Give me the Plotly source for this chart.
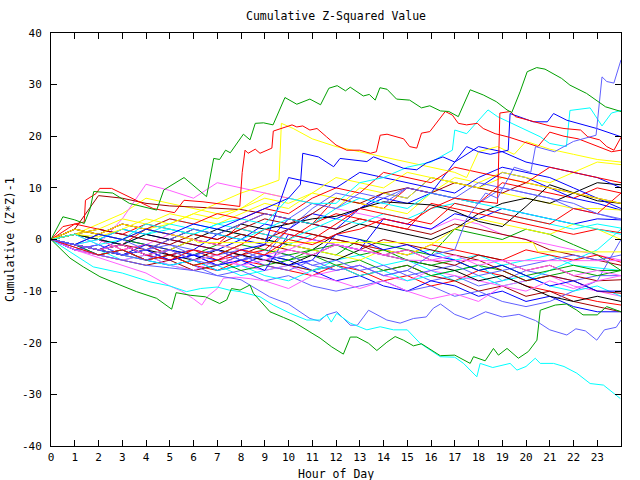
import plotly.graph_objects as go

HOURS = list(range(25))
X_TICKS = list(range(24))
Y_TICKS = [-40, -30, -20, -10, 0, 10, 20, 30, 40]

RED = "#ff0000"; GREEN = "#00a000"; BLUE = "#0000ff"; MAGENTA = "#ff60ff"
CYAN = "#00ffff"; DRED = "#a00000"; YELLOW = "#ffff00"; BLACK = "#000000"; SLATE = "#6060ff"

# ---- traced series (hour, value) ----
green_top = [(0,0),(0.5,4.4),(1.0,3.8),(1.4,3.1),(1.65,6.0),(1.8,9.3),(2.6,9.0),(3.3,7.0),(4.45,5.7),(4.75,9.6),
             (5.6,12.0),(6.55,8.3),(6.85,15.7),(7.1,15.5),(7.35,17.3),(7.55,16.8),(8.1,20.4),(8.38,19.3),(8.6,22.5),
             (8.95,22.6),(9.35,22.2),(9.85,27.5),(10.35,26.2),(10.9,27.2),(11.35,26.1),(11.7,29.3),(12.05,29.8),
             (12.4,28.8),(12.6,29.5),(13.15,27.8),(13.4,28.1),(13.65,27.0),(13.85,29.4),(14.15,29.1),(14.55,27.2),
             (15.1,27.0),(15.6,25.5),(15.95,25.9),(16.4,24.9),(16.75,24.8),(17.15,23.8),(17.65,29.0),(18.2,28.0),
             (18.75,26.7),(19.2,25.1),(19.4,24.6),(19.75,28.6),(20.05,32.5),(20.45,33.3),(20.8,33.0),(21.5,31.2),
             (21.85,29.9),(22.55,28.3),(23.35,25.7),(24.0,24.8)]
red_high = [(0,0),(0.5,2.5),(1.4,3.4),(1.45,7.6),(1.9,8.9),(2.05,9.9),(2.55,9.9),(3.4,8.0),(4.3,6.0),(5.2,5.2),
            (5.6,7.6),(6.4,7.3),(7.3,6.7),(7.95,6.4),(8.05,13.0),(8.17,17.3),(8.3,16.7),(8.6,17.5),(8.8,16.7),
            (9.3,17.7),(9.36,21.0),(10.15,22.2),(10.35,21.8),(10.6,22.0),(10.9,21.2),(11.2,21.5),(11.6,19.9),
            (12.0,18.3),(12.45,17.3),(13.0,17.3),(13.45,16.7),(13.7,17.0),(13.86,20.2),(14.15,20.4),(14.85,19.5),
            (15.1,18.0),(15.4,17.7),(15.6,20.6),(15.95,20.9),(16.25,22.8),(16.6,24.8),(16.9,24.1),(17.15,22.5),
            (17.5,22.2),(17.95,22.5),(18.2,21.5),(18.7,20.5),(19.3,19.8),(19.9,18.9),(20.5,18.0),(21.0,20.8),
            (21.6,20.0),(22.2,19.5),(22.7,18.6),(23.2,17.8),(23.6,17.0),(24.0,17.3)]
red_late = [(0,0),(1,-1.5),(2,-3),(3,-2),(4,-4),(5,-3),(6,-5),(7,-4),(8,-2),(9,-3),(10,0),(11,-1),(12,1),(13,2),
            (14,4),(15,3),(16,6),(17,8),(18,7.5),(18.8,7.0),(18.9,24.5),(19.35,24.8),(19.55,23.8),(20.3,22.8),
            (21.0,22.0),(21.6,21.5),(22.3,21.2),(22.6,19.9),(23.1,19.3),(23.4,18.0),(23.7,17.3),(24.0,19.8)]
cyan_high = [(0,0),(1,1),(2,-1),(3,0),(4,3),(5,2),(6,1),(7,3),(8,4),(9,3),(10,8),(11,7),(12,7),(13,11),(14,12),
             (15,14),(16,15),(16.9,17.3),(17.0,21.2),(17.5,20.5),(18.4,25.1),(18.8,23.8),(19.3,22.7),(19.9,21.5),
             (20.6,19.9),(21.0,18.6),(21.7,18.0),(21.85,25.0),(22.7,25.5),(23.2,22.0),(23.6,24.5),(24.0,25.0)]
slate_end = [(0,0),(1,-1),(2,-2),(3,-3),(4,-4),(5,-2),(6,-4),(7,-5),(8,-3),(9,-5),(10,-6),(11,-4),(12,-6),(13,-5),
             (14,-7),(15,-6),(16,-3),(17,-2),(17.5,4),(18.3,9),(18.8,8),(19.5,14),(20.2,13),(20.4,18),(21.2,17),
             (22.0,19),(22.95,20.2),(23.2,31.5),(23.4,30.6),(23.7,30.3),(24.0,34.8)]
blue_upper = [(0,0),(1,-1),(2,1),(3,0),(4,2),(5,1),(6,3),(7,2),(8,4),(9,6),(10,8),(10.5,10.6),(10.6,16.7),
              (11.26,16.0),(11.9,14.1),(12.17,15.7),(13.3,15.1),(13.58,16.0),(14.84,13.8),(15.4,13.5),(15.8,14.8),
              (16.5,16.0),(17.0,15.0),(17.5,18.0),(18.0,17.0),(18.5,16.5),(19.25,17.3),(19.33,24.4),(20.3,22.8),
              (20.9,22.8),(21.16,24.4),(21.72,23.1),(22.98,21.5),(24.0,19.9)]
yellow_high = [(0,0),(1,1),(2,0.5),(3,2),(4,4),(5,3),(6,5),(7,7),(8,9),(9,10.5),(9.6,11.5),(9.7,22.5),(10.2,21.5),
               (11,19.5),(12,18),(13,17),(14,16),(15,15),(16,14),(17,13),(17.5,12),(18,17),(18.8,18),(19.5,16.5),
               (20,19),(21,17.5),(22,16.5),(23,15.5),(24,15)]
green_low = [(0,0),(0.8,-3.6),(1.36,-5.3),(2.06,-7.2),(2.9,-8.8),(3.6,-10.1),(4.45,-11.4),(5.08,-13.5),(5.27,-10.3),
             (5.86,-10.8),(6.5,-11.1),(7.1,-12.4),(7.4,-11.7),(7.6,-9.5),(7.96,-9.8),(8.38,-8.8),(8.52,-10.4),
             (9.22,-14.0),(9.79,-15.1),(10.2,-15.9),(10.9,-17.9),(11.33,-19.1),(11.82,-20.8),(12.31,-22.2),
             (12.6,-18.9),(12.88,-18.9),(13.37,-20.1),(13.72,-21.5),(14.14,-19.9),(14.49,-18.8),(14.84,-19.5),
             (15.26,-20.6),(15.6,-20.2),(16.39,-22.5),(17.0,-22.4),(17.65,-24.0),(17.79,-22.7),(18.28,-23.5),
             (18.63,-21.1),(18.84,-22.4),(19.2,-21.1),(19.68,-23.0),(20.1,-21.7),(20.46,-19.5),(20.6,-13.7),
             (21.23,-12.7),(21.7,-12.5),(22.14,-13.7),(22.4,-14.6),(23.0,-14.6),(23.4,-13.0),(24.0,-14.0)]
cyan_low = [(0,0),(1.78,-5.3),(3.0,-6.5),(4.17,-8.2),(5.0,-9.0),(5.71,-10.1),(6.3,-9.5),(7.0,-9.2),(7.5,-9.8),
            (7.96,-10.1),(8.8,-11.1),(9.36,-12.7),(10.07,-14.3),(10.77,-15.6),(11.3,-15.6),(11.61,-14.6),
            (11.8,-16.0),(12.03,-14.3),(12.6,-16.2),(13.02,-16.9),(13.3,-17.5),(13.86,-16.9),(14.42,-17.5),
            (15.0,-17.5),(15.54,-20.1),(15.96,-21.4),(16.39,-22.7),(17.0,-22.8),(17.37,-24.0),(17.93,-26.6),
            (18.07,-24.0),(18.6,-24.8),(19.33,-24.0),(19.62,-25.3),(20.0,-24.6),(20.39,-23.0),(20.6,-24.0),
            (21.16,-24.0),(21.6,-24.6),(22.14,-25.9),(22.7,-27.9),(23.26,-28.2),(23.97,-30.8)]
slate_low = [(0,0),(1,-1.5),(2,-3),(3,-4),(4,-5),(5,-5.5),(6,-6),(7,-7),(8,-7.8),(9.2,-11.1),(10.0,-12.5),
             (10.9,-15.3),(11.3,-15.8),(11.6,-14.6),(12.03,-14.0),(12.6,-16.6),(12.9,-16.6),(13.37,-13.7),
             (13.72,-14.6),(14.14,-15.6),(14.7,-16.2),(15.26,-15.3),(15.8,-15.0),(16.1,-13.3),(16.4,-12.5),
             (17.0,-14.5),(17.6,-15.5),(18.3,-14.0),(19.0,-15.0),(19.7,-14.5),(20.4,-15.7),(21.0,-17.5),
             (21.72,-18.5),(22.1,-17.3),(22.5,-17.7),(22.98,-19.5),(23.3,-17.5),(23.8,-17.0),(24.0,-15.6)]
magenta_low = [(0,0),(1,-2),(2,-3.5),(3,-5),(4,-6.5),(5,-9),(5.5,-10),(6.0,-11.5),(6.35,-12.7),(6.6,-11),
               (7.0,-9.5),(7.26,-7.5),(7.8,-7.3),(8.4,-7.6),(9,-8),(10,-9.5),(11,-7),(12,-8),(13,-9.5),(14,-8),
               (15,-10),(16,-11.5),(17,-10.5),(18,-12),(19,-9),(20,-10),(21,-8),(22,-9.5),(23,-8),(24,-7)]
yellow_flat = [(0,0),(1,2),(2,1),(3,3),(4,2),(5,1),(6,0),(6.2,-0.6),(20.3,-0.6),(20.5,-2.4),(24,-2.4)]
magenta_flat = [(0,0),(1,-1),(2,-2),(3,-1),(4,-3),(5,-2),(6,-4),(7,-3),(8,-5),(9,-4),(10,-2),(11,-3),(12,-1),
                (13,-2),(14,-3),(15,-4),(16,-4.1),(24,-4.1)]

# ---- hourly series (values at hours 0..24) ----
L1 = [0, 1, 0, -1, 2, 1, 0, -1, 3, 5, 4, 3, 8, 7, 6, 10, 9, 8, 7, 11, 10, 9, 8, 10, 9]
L2 = [0, -1, -2, 0, -1, -3, -2, 1, 0, -1, 4, 3, 2, 6, 9, 8, 12, 11, 10, 13, 12, 10, 8, 7, 5.7]
L3 = [0, -1, -2, -3, -2, -4, -3, -5, -4, -2, -3, -5, -6, -5, -7, -6, -8, -7, -9, -8, -6, -7, -8, -7, -7]
L4 = [0, 2, 1, 3, 2, 4, 3, 2, 1, 0, -1, 1, 0, -1, -2, -3, -2, -4, -3, -5, -4, -3, -5, -5.5, -6]
L5 = [0, 1, 3, 5, 8, 7, 6, 5, 6, 9, 8, 7, 6, 10, 9, 8, 12, 11, 10, 9, 8, 7, 6, 6, 5.7]
L6 = [0, 1, -1, 4, 10.7, 9.5, 8, 11, 10, 9, 8, 7, 6, 5, 4, 3, 2, 4, 3, 1, 0, -1, -2, -3, -4]
L7 = [0, 2, 8.5, 8, 7, 6.5, 6.3, 6.0, 5.8, 5, 4, 3, 2, 4, 3, 2, 1, 3, 2, 1, 0, -2, -3, -4, -5]
L8 = [0, -1, -2, -1, -3, -2, 0, 2, 1, 0, -1, -2, 1, 3, 2, 1, 0, 2, 5, 7, 8, 7, 9, 11, 10.6]
L9 = [0, 2, 1, 0, -1, -2, -3, -1, -2, -3, -4, -2, -3, 0, -1, -2, -3, 2, 1, 0, 2, 1, -1, -3, -6]
L10 = [0, -1, -2, -3, -4, -3, -5, -6, -4, -5, -6, -7, -5, -6, -8, -7, -9, -8, -6, -7, -9, -10, -11, -12, -12.7]
L11 = [0, -1, -3, -2, -4, -5, -4, -6, -5, -3, -4, -6, -8, -7, -9, -10, -8, -9, -11, -10, -12, -11, -13, -14, -14]
L12 = [0, -1, -2, -4, -3, -5, -6, -5, -7, -6, -5, -6, -4, -3, -5, -4, -6, -8, -7, -9, -8, -6, -4, -2, 2]
L13 = [0, -1, 1, 0, 2, 3, 5, 4, 6, 8, 7, 9, 8, 7, 6, 5, 9, 12, 11, 13, 12, 11, 13, 15, 14.5]
L14 = [0, -2, -3, -4, -5, -4, -6, -5, -3, -4, -5, -6, -5, -7, -6, -5, -7, -8, -10, -9, -11, -10, -12, -13, -14]
L15 = [0, -2, -3, -2, -4, -3, -5, -7, -6, -8, -7, -9, -10, -9, -8, -10, -9, -11, -10, -12, -13, -12, -10, -8, 0]
L16 = [0, 1, 0, 2, 1, 0, -1, -2, 0, 3, 2, 5, 4, 6, 8, 7, 9, 15, 18, 17, 15, 14, 13, 12, 10]
L17 = [0, 1, 0, -2, -1, -3, -2, -4, -3, -2, 2, 1, 0, -1, -2, -3, -1, -2, -3, -4, -2, -3, -4, -3, -4.4]
L18 = [0, -2, -3, -4, -3, -5, -6, -4, -5, -6, -5, -7, -6, -5, -7, -8, -6, -7, -8, -9, -8, -7, -9, -10, -11]
L19 = [0, -1, -2, -3, -4, -5, -4, -6, -5, -7, -8, -6, -5, -7, -6, -8, -7, -6, -5, -8, -7, -9, -10, -9, -11]
L20 = [0, -1, -3, -2, -4, -3, -5, -4, -6, -5, -4, -3, -5, -4, -6, -5, -7, -6, -5, -6, -8, -7, -6, -7, -6]
L21 = [0, 1, 0, -1, -2, 0, -1, -2, -3, -1, -2, -3, -1, -2, 0, -1, -2, -3, -4, -6, -8, -7, -8, -10, -10.4]
L22 = [0, -1, -2, -1, -3, -4, -3, -5, -4, -6, 1, 0, -1, -2, 4, 3, 2, 5, 4, 6, 5, 4, 3, 4, 3.8]
L23 = [0, -1, -2, -3, -1, -2, 0, -1, -2, -3, -1, -2, -3, -4, -2, -3, -1, 2, 4, 3, 2, 1, 3, 2, 0]
L24 = [0, -1, -2, -3, -2, -3, -4, -2, -3, -4, -5, -3, -4, -2, -3, -4, -5, -6, -8, -7, -9, -11, -12, -11, -12]
L25 = [0, 1, 2, 1, 0, -1, -2, -3, -2, -4, -3, -5, -4, -6, -5, -7, -6, -5, -7, -6, -5, -4, -3, -4, -3]
L26 = [0, 3, 2, 1, 3, 2, 1, 0, 2, 1, 0, 3, 5, 4, 3, 2, 7, 6, 5, 4, 3, 2, 1, 2, 1.3]
L27 = [0, 2, 1, 3, 2, 1, 0, -1, 1, 0, 2, 1, 0, -1, -3, -2, -4, -5, -3, -4, -6, -5, -7, -8, -7.8]
L28 = [0, 1, 0, -1, 1, 2, 1, 3, 2, 1, 0, 2, 4, 3, 5, 4, 6, 7, 6, 5, 4, 3, 2, 3, 2.2]
L29 = [0, -1, -2, -1, -3, -2, -4, -3, -1, -2, -3, -2, -1, -3, -2, -4, -5, -4, -6, -5, -7, -6, -5, -6, -6]
L30 = [0, -2, -1, -3, -2, -4, -3, -2, -4, -3, -5, -4, 1, 0, -2, -1, -3, -4, -6, -5, -7, -9, -8, -10, -10]
L31 = [0, -1, 0, -2, -1, 1, 0, -1, -2, -3, -2, 0, -1, -2, -3, -2, -4, -3, -5, -4, -6, -5, -7, -6, -7]
L32 = [0, 1, 0, -1, 1, 0, 2, 1, 3, 2, 3, 4, 4.5, 6, 7.3, 7, 6.7, 5.5, 3.5, 2.5, 6.4, 10.6, 9, 7.5, 7]
L33 = [0, -1, -2, -3, -1, -2, -3, -4, -2, -1, 12, 11, 10, 13, 12, 11, 10, 9, 12, 14, 13, 12, 10, 8, 6]
L34 = [0, -1, 1, 0, -2, -1, -3, -2, -4, -3, 2, 6, 9, 8, 7, 10, 9, 8, 7, 10, 9, 8, 6, 5, 3.8]
L35 = [0, -1, -2, -1, -3, -4, -2, -3, -1, 2, 1, 0, 3, 6, 5, 4, 3, 7, 6, 5, 4, 3, 6, 5, 9]
L36 = [0, 1, 2, 1, 0, -1, 1, 0, 2, 4, 3, 5, 8, 7, 9, 10, 9, 11, 10, 9, 11, 10, 9, 8, 7]
L37 = [0, 1, 2, 4, 3, 5, 4, 3, 5, 7, 6, 9, 12, 11, 10, 13, 12, 11, 10, 12, 11, 10, 9, 8, 7]
L38 = [0, 2, 1, 3, 2, 4, 3, 5, 4, 6, 5, 8, 10, 9, 13, 12, 11, 14, 13, 12, 11, 14, 13, 12, 11]
L39 = [0, -1, 0, 2, 1, 3, 2, 1, 0, 2, 4, 3, 6, 8, 7, 6, 9, 8, 7, 6, 5, 4, 3, 2, 1]
L40 = [0, -2, -1, -3, -2, 0, 2, 1, 3, 5, 4, 7, 6, 9, 8, 10, 9, 8, 11, 10, 9, 8, 7, 5, 4]

hourly_series = [
    (L1, RED), (L2, BLUE), (L3, SLATE), (L4, CYAN), (L5, YELLOW), (L6, MAGENTA), (L7, DRED), (L8, BLACK),
    (L9, GREEN), (L10, RED), (L11, BLUE), (L12, CYAN), (L13, YELLOW), (L14, DRED), (L15, SLATE), (L16, BLUE),
    (L17, RED), (L18, MAGENTA), (L19, CYAN), (L20, GREEN), (L21, DRED), (L22, BLUE), (L23, YELLOW), (L24, BLACK),
    (L25, SLATE), (L26, RED), (L27, DRED), (L28, CYAN), (L29, GREEN), (L30, BLUE), (L31, MAGENTA), (L32, BLACK),
    (L33, BLUE), (L34, SLATE), (L35, RED), (L36, DRED), (L37, YELLOW), (L38, RED), (L39, CYAN), (L40, SLATE),
]
traced_series = [
    (yellow_flat, YELLOW), (magenta_flat, MAGENTA), (magenta_low, MAGENTA), (slate_low, SLATE),
    (cyan_low, CYAN), (green_low, GREEN), (yellow_high, YELLOW), (cyan_high, CYAN), (blue_upper, BLUE),
    (red_late, RED), (red_high, RED), (slate_end, SLATE), (green_top, GREEN),
]

FONT = "DejaVu Sans Mono"
fig = go.Figure()
for vals, col in hourly_series:
    fig.add_trace(go.Scatter(x=HOURS[:len(vals)], y=vals, mode="lines",
                             line=dict(color=col, width=1), hoverinfo="skip"))
for pts, col in traced_series:
    fig.add_trace(go.Scatter(x=[p[0] for p in pts], y=[p[1] for p in pts], mode="lines",
                             line=dict(color=col, width=1), hoverinfo="skip"))

axis_common = dict(showline=True, linecolor="black", linewidth=1, mirror="ticks", ticks="inside",
                   ticklen=6, tickcolor="black", tickwidth=1, showgrid=False, zeroline=False,
                   tickfont=dict(family=FONT, size=11, color="black"))

L, R, T, B = 51, 19, 33, 34
pw, ph = 640 - L - R, 480 - T - B
def px2paper(px, py):
    return (px - L) / pw, (480 - B - py) / ph
xx, xy = px2paper(336, 474)
yx, yy = px2paper(10, 240)

fig.update_layout(
    width=640, height=480, autosize=False,
    margin=dict(l=L, r=R, t=T, b=B),
    paper_bgcolor="white", plot_bgcolor="white", showlegend=False,
    title=dict(text="Cumulative Z-Squared Value", x=336 / 640, y=1 - 16 / 480, xref="container",
               yref="container", xanchor="center", yanchor="middle",
               font=dict(family=FONT, size=11.5, color="black")),
    xaxis=dict(range=[0, 24], tickvals=X_TICKS, ticktext=[str(t) for t in X_TICKS],
               ticklabelstandoff=1, **axis_common),
    yaxis=dict(range=[-40, 40], tickvals=Y_TICKS, ticktext=[str(t) for t in Y_TICKS],
               ticklabelstandoff=6, **axis_common),
    annotations=[
        dict(text="Hour of Day", x=xx, y=xy, xref="paper", yref="paper", showarrow=False,
             xanchor="center", yanchor="middle", font=dict(family=FONT, size=11.5, color="black")),
        dict(text="Cumulative (Z*Z)-1", x=yx, y=yy, xref="paper", yref="paper", showarrow=False,
             textangle=-90, xanchor="center", yanchor="middle",
             font=dict(family=FONT, size=11.5, color="black")),
    ],
)
fig.write_html("out.html")
